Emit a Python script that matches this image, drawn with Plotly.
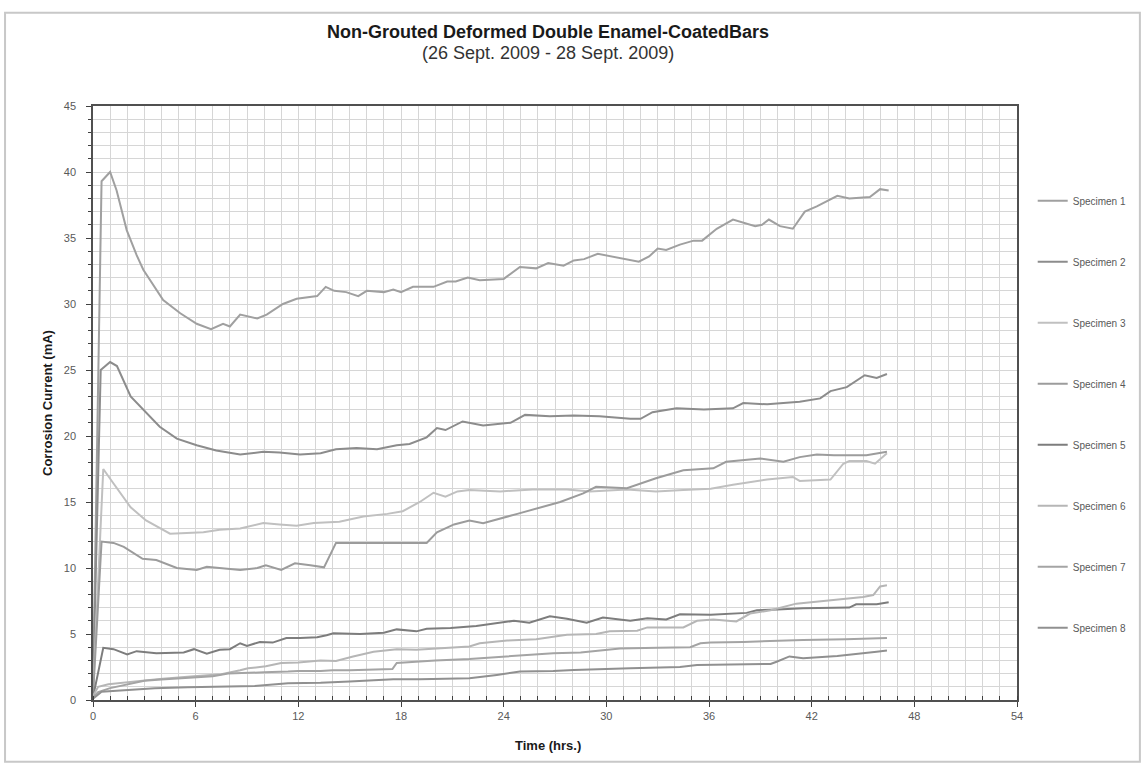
import plotly.graph_objects as go

# ---- Corrosion current readings (mA) against elapsed time (hrs.) ----
hours_s1 = [0, 0.5, 1.0, 1.38, 1.97, 2.55, 2.94, 3.33, 4.1, 5.1, 6.06, 6.9, 7.6, 8.0, 8.6, 9.6, 10.15,
            11.1, 11.9, 13.1, 13.6, 14.1, 14.8, 15.5, 16.0, 17.0, 17.55, 18.0, 18.7, 19.9, 20.7, 21.2,
            21.9, 22.6, 24.0, 24.95, 25.9, 26.6, 27.5, 28.1, 28.7, 29.5, 30.6, 31.9, 32.5, 33.0, 33.5,
            34.3, 35.1, 35.6, 36.45, 37.4, 38.7, 39.1, 39.5, 40.15, 40.9, 41.6, 42.3, 43.5, 44.2, 45.4,
            46.0, 46.5]
current_s1 = [1.0, 39.3, 40.0, 38.6, 35.6, 33.7, 32.6, 31.8, 30.3, 29.3, 28.5, 28.1, 28.5, 28.3, 29.2,
              28.9, 29.2, 30.0, 30.4, 30.6, 31.3, 31.0, 30.9, 30.6, 31.0, 30.9, 31.1, 30.9, 31.3, 31.3,
              31.7, 31.7, 32.0, 31.8, 31.9, 32.8, 32.7, 33.1, 32.9, 33.3, 33.4, 33.8, 33.5, 33.2, 33.6,
              34.2, 34.1, 34.5, 34.8, 34.8, 35.7, 36.4, 35.9, 36.0, 36.4, 35.9, 35.7, 37.0, 37.4, 38.2,
              38.0, 38.1, 38.7, 38.6]

hours_s2 = [0, 0.45, 1.0, 1.4, 2.2, 2.85, 3.1, 3.9, 4.9, 6.06, 7.2, 8.6, 9.95, 10.9, 12.1, 13.3, 14.2,
            15.4, 16.6, 17.75, 18.5, 19.5, 20.1, 20.6, 21.6, 22.8, 24.4, 25.25, 26.7, 28.1, 29.6, 31.4,
            32.0, 32.7, 34.1, 35.7, 37.4, 38.0, 39.4, 41.3, 42.5, 43.1, 44.05, 45.1, 45.8, 46.4]
current_s2 = [0.8, 25.0, 25.6, 25.3, 23.0, 22.1, 21.8, 20.7, 19.8, 19.3, 18.9, 18.6, 18.8, 18.75, 18.6,
              18.7, 19.0, 19.1, 19.0, 19.3, 19.4, 19.9, 20.6, 20.45, 21.1, 20.8, 21.0, 21.6, 21.5, 21.55,
              21.5, 21.3, 21.3, 21.8, 22.1, 22.0, 22.1, 22.5, 22.4, 22.6, 22.85, 23.4, 23.7, 24.6, 24.4,
              24.7]

hours_s3 = [0, 0.6, 1.2, 2.2, 3.1, 4.5, 6.45, 7.4, 8.6, 9.95, 10.9, 11.9, 12.9, 14.4, 15.8, 17.2, 18.1,
            19.1, 19.9, 20.6, 21.3, 22.0, 23.8, 25.7, 27.7, 29.05, 31.2, 32.9, 34.5, 36.1, 37.4, 39.4,
            40.9, 41.3, 43.1, 43.85, 44.2, 45.2, 45.7, 46.4]
current_s3 = [0.5, 17.5, 16.4, 14.6, 13.6, 12.6, 12.7, 12.9, 13.0, 13.4, 13.3, 13.2, 13.4, 13.5, 13.9,
              14.1, 14.3, 15.0, 15.7, 15.4, 15.8, 15.9, 15.8, 15.95, 15.95, 15.8, 15.95, 15.8, 15.9, 16.0,
              16.3, 16.7, 16.9, 16.6, 16.7, 17.9, 18.1, 18.1, 17.9, 18.7]

hours_s4 = [0, 0.5, 1.2, 1.8, 2.9, 3.7, 4.9, 6.06, 6.65, 7.0, 8.6, 9.6, 10.1, 11.0, 11.8, 12.7, 13.5,
            14.2, 14.8, 16.8, 18.0, 19.5, 20.1, 21.1, 22.0, 22.8, 24.8, 26.3, 27.3, 28.65, 29.4, 31.2,
            32.9, 34.5, 36.25, 37.0, 38.0, 39.0, 40.35, 41.3, 42.3, 43.3, 45.2, 46.4]
current_s4 = [0.3, 12.0, 11.9, 11.6, 10.7, 10.6, 10.0, 9.85, 10.1, 10.05, 9.85, 10.0, 10.2, 9.85, 10.35,
              10.2, 10.05, 11.9, 11.9, 11.9, 11.9, 11.9, 12.7, 13.3, 13.6, 13.4, 14.1, 14.65, 15.0,
              15.65, 16.15, 16.05, 16.8, 17.4, 17.55, 18.05, 18.2, 18.3, 18.05, 18.4, 18.6, 18.55, 18.55,
              18.8]

hours_s5 = [0, 0.6, 1.2, 2.0, 2.55, 3.7, 5.3, 5.9, 6.65, 7.4, 8.0, 8.6, 9.0, 9.75, 10.5, 11.3, 12.1,
            13.1, 13.65, 14.05, 15.6, 17.0, 17.75, 18.3, 18.9, 19.5, 20.9, 22.4, 23.8, 24.6, 25.5, 26.7,
            27.7, 28.85, 29.8, 31.4, 32.4, 33.5, 34.3, 36.1, 38.2, 38.8, 40.0, 41.5, 44.2, 44.6, 45.8,
            46.5]
current_s5 = [0.2, 3.95, 3.85, 3.45, 3.7, 3.55, 3.6, 3.85, 3.5, 3.8, 3.85, 4.3, 4.1, 4.4, 4.35, 4.7, 4.7,
              4.75, 4.9, 5.05, 5.0, 5.1, 5.35, 5.3, 5.2, 5.4, 5.45, 5.6, 5.85, 6.0, 5.85, 6.35, 6.15,
              5.85, 6.25, 6.0, 6.2, 6.1, 6.5, 6.45, 6.6, 6.8, 6.85, 6.95, 7.0, 7.25, 7.25, 7.4]

hours_s6 = [0, 0.3, 0.9, 2.05, 3.9, 5.9, 7.5, 8.6, 9.06, 10.1, 11.0, 12.0, 13.3, 14.2, 15.2, 16.4, 17.75,
            18.9, 20.0, 22.0, 22.6, 24.2, 25.9, 27.7, 29.4, 30.2, 31.8, 32.4, 34.5, 35.3, 36.25, 37.6,
            38.4, 39.6, 41.1, 42.3, 43.1, 45.0, 45.6, 46.0, 46.4]
current_s6 = [0.3, 1.0, 1.2, 1.35, 1.6, 1.8, 1.95, 2.25, 2.4, 2.55, 2.8, 2.85, 3.0, 2.95, 3.3, 3.66,
              3.85, 3.8, 3.9, 4.05, 4.3, 4.5, 4.6, 4.95, 5.0, 5.2, 5.25, 5.5, 5.5, 6.0, 6.1, 5.95, 6.55,
              6.8, 7.3, 7.45, 7.6, 7.8, 7.95, 8.6, 8.7]

hours_s7 = [0, 0.3, 1.0, 2.0, 3.0, 4.0, 5.0, 6.0, 7.0, 7.9, 9.0, 10.0, 11.4, 12.0, 13.3, 14.0, 15.0,
            16.0, 17.5, 17.75, 18.7, 20.0, 22.0, 23.0, 24.2, 25.5, 26.9, 28.5, 30.0, 30.8, 33.0, 34.9,
            35.5, 36.1, 38.0, 40.0, 41.5, 44.0, 46.4]
current_s7 = [0.2, 0.6, 0.9, 1.2, 1.45, 1.55, 1.62, 1.7, 1.8, 2.0, 2.07, 2.1, 2.15, 2.2, 2.2, 2.25, 2.25,
              2.3, 2.35, 2.8, 2.9, 3.0, 3.1, 3.2, 3.3, 3.45, 3.55, 3.6, 3.8, 3.9, 3.95, 4.0, 4.3, 4.35,
              4.4, 4.5, 4.55, 4.6, 4.7]

hours_s8 = [0, 0.5, 2.05, 3.6, 5.55, 7.0, 9.45, 11.4, 13.3, 15.0, 17.55, 19.1, 22.0, 23.6, 24.95, 26.9,
            28.1, 31.4, 34.3, 35.3, 39.6, 39.95, 40.7, 41.5, 43.5, 45.8, 46.4]
current_s8 = [0.1, 0.63, 0.76, 0.89, 0.96, 1.0, 1.06, 1.26, 1.3, 1.4, 1.57, 1.57, 1.65, 1.9, 2.15, 2.2,
              2.27, 2.4, 2.5, 2.65, 2.73, 2.9, 3.3, 3.16, 3.33, 3.65, 3.75]

specimen_names = ["Specimen 1", "Specimen 2", "Specimen 3", "Specimen 4",
                  "Specimen 5", "Specimen 6", "Specimen 7", "Specimen 8"]
series_hours = [hours_s1, hours_s2, hours_s3, hours_s4, hours_s5, hours_s6, hours_s7, hours_s8]
series_current = [current_s1, current_s2, current_s3, current_s4,
                  current_s5, current_s6, current_s7, current_s8]
line_colors = ["#a0a0a0", "#8c8c8c", "#c0c0c0", "#9c9c9c",
               "#7d7d7d", "#b6b6b6", "#a4a4a4", "#909090"]

x_ticks = [0, 6, 12, 18, 24, 30, 36, 42, 48, 54]
y_ticks = [0, 5, 10, 15, 20, 25, 30, 35, 40, 45]

TEXT_FONT = "Liberation Sans, Arial, sans-serif"

fig = go.Figure()
for name, xs, ys, col in zip(specimen_names, series_hours, series_current, line_colors):
    fig.add_trace(go.Scatter(
        x=xs, y=ys, mode="lines", name=name, legendgroup=name,
        line=dict(color=col, width=2, shape="linear"),
    ))

axis_common = dict(
    showline=True, linecolor="#505050", linewidth=1.5, mirror=True,
    showgrid=True, gridcolor="#d6d6d6", gridwidth=1,
    zeroline=False,
    tickfont=dict(family=TEXT_FONT, size=11, color="#595959"),
    ticks="outside", ticklen=5, tickcolor="#404040",
)

fig.update_xaxes(
    range=[0, 54], tickvals=x_ticks, ticktext=[str(v) for v in x_ticks],
    minor=dict(dtick=1, showgrid=True, gridcolor="#d6d6d6", ticks="inside",
               ticklen=4, tickcolor="#404040"),
    **axis_common,
)
fig.update_yaxes(
    range=[0, 45], tickvals=y_ticks, ticktext=[str(v) for v in y_ticks],
    minor=dict(dtick=1, showgrid=True, gridcolor="#d6d6d6", ticks="outside",
               ticklen=3, tickcolor="#404040"),
    ticklabelstandoff=8,
    **axis_common,
)

annotations = [
    dict(text="<b>Non-Grouted Deformed Double Enamel-CoatedBars</b>", x=0.492, y=1.1246,
         xref="paper", yref="paper", showarrow=False, xanchor="center", yanchor="middle",
         font=dict(family=TEXT_FONT, size=18, color="#1a1a1a")),
    dict(text="(26 Sept. 2009 - 28 Sept. 2009)", x=0.492, y=1.0895,
         xref="paper", yref="paper", showarrow=False, xanchor="center", yanchor="middle",
         font=dict(family=TEXT_FONT, size=18, color="#333333")),
    dict(text="<b>Time (hrs.)</b>", x=0.492, y=-0.0758,
         xref="paper", yref="paper", showarrow=False, xanchor="center", yanchor="middle",
         font=dict(family=TEXT_FONT, size=13, color="#1a1a1a")),
    dict(text="<b>Corrosion Current (mA)</b>", x=-0.0498, y=0.5,
         xref="paper", yref="paper", showarrow=False, xanchor="center", yanchor="middle",
         textangle=-90, font=dict(family=TEXT_FONT, size=13, color="#1a1a1a")),
]

fig.update_layout(
    width=1144, height=771,
    margin=dict(l=93, r=127, t=106, b=71),
    paper_bgcolor="white", plot_bgcolor="white",
    showlegend=True,
    legend=dict(
        x=1.017, xanchor="left", y=0.865, yanchor="top",
        font=dict(family=TEXT_FONT, size=10, color="#595959"),
        tracegroupgap=42, itemwidth=30, bgcolor="rgba(0,0,0,0)",
    ),
    annotations=annotations,
    shapes=[dict(type="rect", xref="paper", yref="paper",
                 x0=-0.0952, x1=1.133, y0=-0.104, y1=1.157,
                 line=dict(color="#c8c8c8", width=2), fillcolor="rgba(0,0,0,0)",
                 layer="below")],
)

fig.write_html("out.html")
